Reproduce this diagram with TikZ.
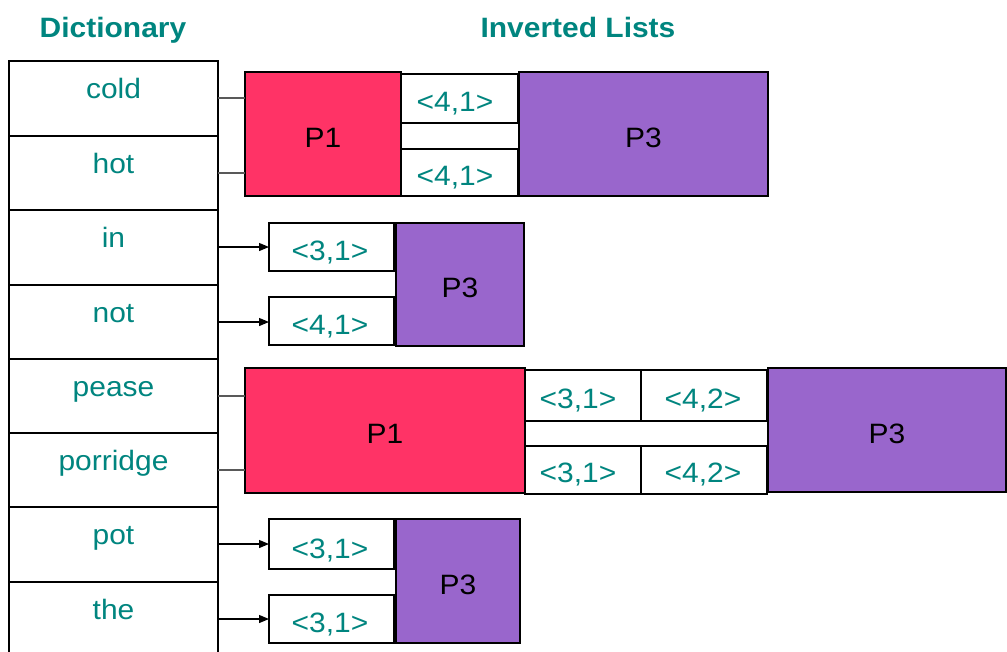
\documentclass[tikz,border=0pt]{standalone}
\usepackage{fontspec}
\setmainfont[FakeStretch=1.07]{Liberation Sans}
\usetikzlibrary{arrows.meta}
\definecolor{tealtxt}{HTML}{00857F}
\definecolor{pinkP}{HTML}{FF3366}
\definecolor{purpP}{HTML}{9966CC}
\begin{document}
\begin{tikzpicture}[x=1pt,y=-1pt,
  every node/.style={inner sep=0pt, outer sep=0pt},
  cell/.style={draw=black, line width=2.4pt, fill=white},
  pbox/.style={draw=black, line width=2.4pt, text=black, font=\fontsize{28}{32}\selectfont, text height=26pt, text depth=0pt},
  dtext/.style={text=tealtxt, font=\fontsize{28}{32}\selectfont, anchor=base},
  head/.style={text=tealtxt, font=\bfseries\fontsize{28}{32}\selectfont, anchor=base},
  link/.style={draw=black!65, line width=1.2pt},
  arr/.style={draw=black, line width=1.2pt, -{Triangle[length=10pt,width=8pt]}}]
\useasboundingbox (0,0) rectangle (1007,651);
\clip (0,0) rectangle (1007,651);

% headers
\node[head] (h1) at (113,37) {Dictionary};
\node[head] (h2) at (578,37) {Inverted Lists};

% dictionary
\node[cell, minimum width=209pt, minimum height=74.5pt] (d1) at (113.5,98.5) {};
\node[cell, minimum width=209pt, minimum height=74.5pt] (d2) at (113.5,173) {};
\node[cell, minimum width=209pt, minimum height=74.5pt] (d3) at (113.5,247.5) {};
\node[cell, minimum width=209pt, minimum height=74.5pt] (d4) at (113.5,322) {};
\node[cell, minimum width=209pt, minimum height=74.5pt] (d5) at (113.5,396) {};
\node[cell, minimum width=209pt, minimum height=74.5pt] (d6) at (113.5,470) {};
\node[cell, minimum width=209pt, minimum height=74.5pt] (d7) at (113.5,544.5) {};
\node[cell, minimum width=209pt, minimum height=74.5pt] (d8) at (113.5,619.5) {};
\node[dtext] (w1) at (113.5,98) {cold};
\node[dtext] (w2) at (113.5,173) {hot};
\node[dtext] (w3) at (113.5,247) {in};
\node[dtext] (w4) at (113.5,322) {not};
\node[dtext] (w5) at (113.5,396) {pease};
\node[dtext] (w6) at (113.5,470) {porridge};
\node[dtext] (w7) at (113.5,544) {pot};
\node[dtext] (w8) at (113.5,619) {the};

% group 1
\node[pbox, fill=pinkP, minimum width=156pt, minimum height=124pt] (g1p1) at (323,134) {P1};
\node[cell, minimum width=117pt, minimum height=49pt] (g1a) at (459.5,98.5) {};
\node[cell, minimum width=117pt, minimum height=47pt] (g1b) at (459.5,172.5) {};
\node[pbox, fill=purpP, minimum width=249pt, minimum height=124pt] (g1p3) at (643.5,134) {P3};
\node[dtext] (g1at) at (455,111) {<4,1>};
\node[dtext] (g1bt) at (455,185) {<4,1>};
\draw[link] (w1.base -| d1.east) -- (w1.base -| g1p1.west);
\draw[link] (w2.base -| d2.east) -- (w2.base -| g1p1.west);

% group 2
\node[cell, minimum width=125pt, minimum height=48pt] (g2a) at (331.5,247) {};
\node[cell, minimum width=125pt, minimum height=48pt] (g2b) at (331.5,321) {};
\node[pbox, fill=purpP, minimum width=128pt, minimum height=123pt] (g2p3) at (460,284.5) {P3};
\node[dtext] (g2at) at (330,260) {<3,1>};
\node[dtext] (g2bt) at (330,334) {<4,1>};
\draw[arr] (w3.base -| d3.east) -- (w3.base -| g2a.west);
\draw[arr] (w4.base -| d4.east) -- (w4.base -| g2b.west);

% group 3
\node[pbox, fill=pinkP, minimum width=280pt, minimum height=125pt] (g3p1) at (385,430.5) {P1};
\node[cell, minimum width=116pt, minimum height=51pt] (g3a) at (583,395.5) {};
\node[cell, minimum width=126pt, minimum height=51pt] (g3b) at (704,395.5) {};
\node[cell, minimum width=116pt, minimum height=48pt] (g3c) at (583,470) {};
\node[cell, minimum width=126pt, minimum height=48pt] (g3d) at (704,470) {};
\node[pbox, fill=purpP, minimum width=238pt, minimum height=124pt] (g3p3) at (887,430) {P3};
\node[dtext] (g3at) at (578,408) {<3,1>};
\node[dtext] (g3bt) at (703,408) {<4,2>};
\node[dtext] (g3ct) at (578,482) {<3,1>};
\node[dtext] (g3dt) at (703,482) {<4,2>};
\draw[link] (w5.base -| d5.east) -- (w5.base -| g3p1.west);
\draw[link] (w6.base -| d6.east) -- (w6.base -| g3p1.west);

% group 4
\node[cell, minimum width=125pt, minimum height=50pt] (g4a) at (331.5,544) {};
\node[cell, minimum width=125pt, minimum height=48pt] (g4b) at (331.5,619) {};
\node[pbox, fill=purpP, minimum width=124pt, minimum height=124pt] (g4p3) at (458,581) {P3};
\node[dtext] (g4at) at (330,558) {<3,1>};
\node[dtext] (g4bt) at (330,632) {<3,1>};
\draw[arr] (w7.base -| d7.east) -- (w7.base -| g4a.west);
\draw[arr] (w8.base -| d8.east) -- (w8.base -| g4b.west);
\end{tikzpicture}
\end{document}
